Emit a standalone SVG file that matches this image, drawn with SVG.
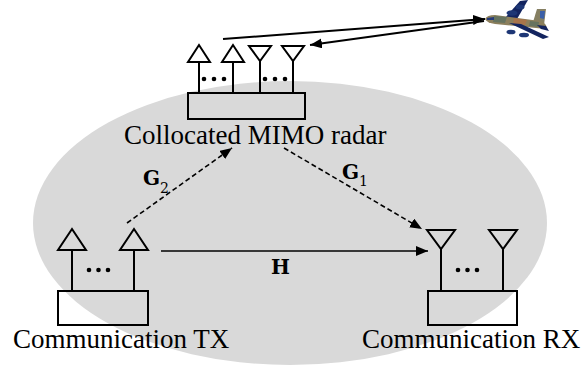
<svg xmlns="http://www.w3.org/2000/svg" width="582" height="372" viewBox="0 0 582 372">
  <style>
    .box{fill:none;stroke:#000;stroke-width:2}
    .ant{fill:none;stroke:#000;stroke-width:2;stroke-linejoin:miter}
    .stem{stroke:#000;stroke-width:2}
    .dot{fill:#000}
    .lbl{font-family:"Liberation Serif","Times New Roman",serif;font-size:27px;fill:#000}
    .sym{font-family:"DejaVu Serif","Liberation Serif",serif;font-weight:bold;font-size:20px;fill:#000}
    .sub{font-family:"DejaVu Serif","Liberation Serif",serif;font-size:14px;fill:#000}
    .link{stroke:#000;stroke-width:1.6;fill:none}
    .dash{stroke-dasharray:5 3}
    .echo{stroke:#000;stroke-width:2;fill:none}
  </style>
  <defs>
    <marker id="head" markerUnits="userSpaceOnUse" markerWidth="13" markerHeight="11" refX="12" refY="5" orient="auto">
      <path d="M0,0 L12,5 L0,10 z" fill="#000"/>
    </marker>
  </defs>

  <!-- coverage area -->
  <ellipse id="area" cx="290" cy="223" rx="257" ry="142" fill="#d9d9d9"/>

  <!-- collocated MIMO radar -->
  <g id="radar">
    <rect class="box" x="188" y="93" width="117" height="26"/>
    <line class="stem" x1="199" y1="62" x2="199" y2="93"/>
    <line class="stem" x1="233" y1="62" x2="233" y2="93"/>
    <line class="stem" x1="260" y1="61" x2="260" y2="93"/>
    <line class="stem" x1="293" y1="61" x2="293" y2="93"/>
    <polygon class="ant" points="199,45 188,62 210,62"/>
    <polygon class="ant" points="233,45 222,62 244,62"/>
    <polygon class="ant" points="249,46 271,46 260,61"/>
    <polygon class="ant" points="282,46 304,46 293,61"/>
    <circle class="dot" cx="204" cy="79" r="2.3"/>
    <circle class="dot" cx="214" cy="79" r="2.3"/>
    <circle class="dot" cx="224" cy="79" r="2.3"/>
    <circle class="dot" cx="265" cy="79" r="2.3"/>
    <circle class="dot" cx="275" cy="79" r="2.3"/>
    <circle class="dot" cx="285" cy="79" r="2.3"/>
    <text class="lbl" x="124" y="144">Collocated MIMO radar</text>
  </g>

  <!-- communication transmitter -->
  <g id="tx">
    <rect class="box" x="58" y="291" width="90" height="34"/>
    <line class="stem" x1="72" y1="250" x2="72" y2="291"/>
    <line class="stem" x1="134" y1="250" x2="134" y2="291"/>
    <polygon class="ant" points="72,229 58,250 86,250"/>
    <polygon class="ant" points="134,229 120,250 148,250"/>
    <circle class="dot" cx="89" cy="270" r="2.3"/>
    <circle class="dot" cx="98.5" cy="270" r="2.3"/>
    <circle class="dot" cx="108" cy="270" r="2.3"/>
    <text class="lbl" x="13" y="348">Communication TX</text>
  </g>

  <!-- communication receiver -->
  <g id="rx">
    <rect class="box" x="428" y="291" width="89" height="34"/>
    <line class="stem" x1="441" y1="249" x2="441" y2="291"/>
    <line class="stem" x1="503" y1="249" x2="503" y2="291"/>
    <polygon class="ant" points="427,230 455,230 441,249"/>
    <polygon class="ant" points="489,230 517,230 503,249"/>
    <circle class="dot" cx="458" cy="270" r="2.3"/>
    <circle class="dot" cx="467.5" cy="270" r="2.3"/>
    <circle class="dot" cx="477" cy="270" r="2.3"/>
    <text class="lbl" x="362" y="348">Communication RX</text>
  </g>

  <!-- airborne target -->
  <g id="target">
    <!-- far wing and engines -->
    <polygon points="505,18 520,1 528,0 517,19" fill="#13245f"/>
    <ellipse cx="512" cy="13" rx="5.5" ry="2.8" fill="#1d3675"/>
    <ellipse cx="520" cy="7" rx="4.5" ry="2.5" fill="#1d3675"/>
    <!-- tail fin -->
    <polygon points="533,22 537,9 546,9 544,25" fill="#857f62"/>
    <polygon points="540,11 545,11 544,19 540,18" fill="#3b5fa8"/>
    <!-- fuselage -->
    <path d="M485,19 Q487,15 495,15 L540,21 Q548,24 546,29 L495,24 Q487,23 485,19 z" fill="#8c7f5c"/>
    <path d="M494,16 L507,17 L505,23 L493,22 z" fill="#66735f"/>
    <path d="M514,18 L527,20 L525,25 L513,24 z" fill="#a8744a"/>
    <path d="M530,21 L539,22 L538,27 L529,26 z" fill="#66735f"/>
    <path d="M487,18 L494,17 L494,20 L487,20 z" fill="#263b7a"/>
    <!-- near wing, engines and stabiliser -->
    <polygon points="509,23 521,24 549,37 543,39" fill="#13245f"/>
    <ellipse cx="511" cy="32" rx="4.5" ry="2.3" fill="#1d3675"/>
    <ellipse cx="524" cy="35" rx="5" ry="2.3" fill="#1d3675"/>
    <polygon points="537,25 546,26 549,31 541,29" fill="#13245f"/>
  </g>

  <!-- links -->
  <g id="links">
    <line class="echo" x1="223" y1="39" x2="485" y2="19" marker-end="url(#head)"/>
    <line class="echo" x1="484" y1="21" x2="310" y2="45" marker-end="url(#head)"/>
    <line class="link" x1="161" y1="251" x2="428" y2="251" marker-end="url(#head)"/>
    <line class="link dash" x1="127" y1="223" x2="232" y2="148" marker-end="url(#head)"/>
    <line class="link dash" x1="284" y1="148" x2="422" y2="229" marker-end="url(#head)"/>
    <text class="sym" x="271" y="274">H</text>
    <text class="sym" x="143" y="185">G</text>
    <text class="sub" x="160" y="193">2</text>
    <text class="sym" x="342" y="179">G</text>
    <text class="sub" x="359" y="186">1</text>
  </g>
</svg>
